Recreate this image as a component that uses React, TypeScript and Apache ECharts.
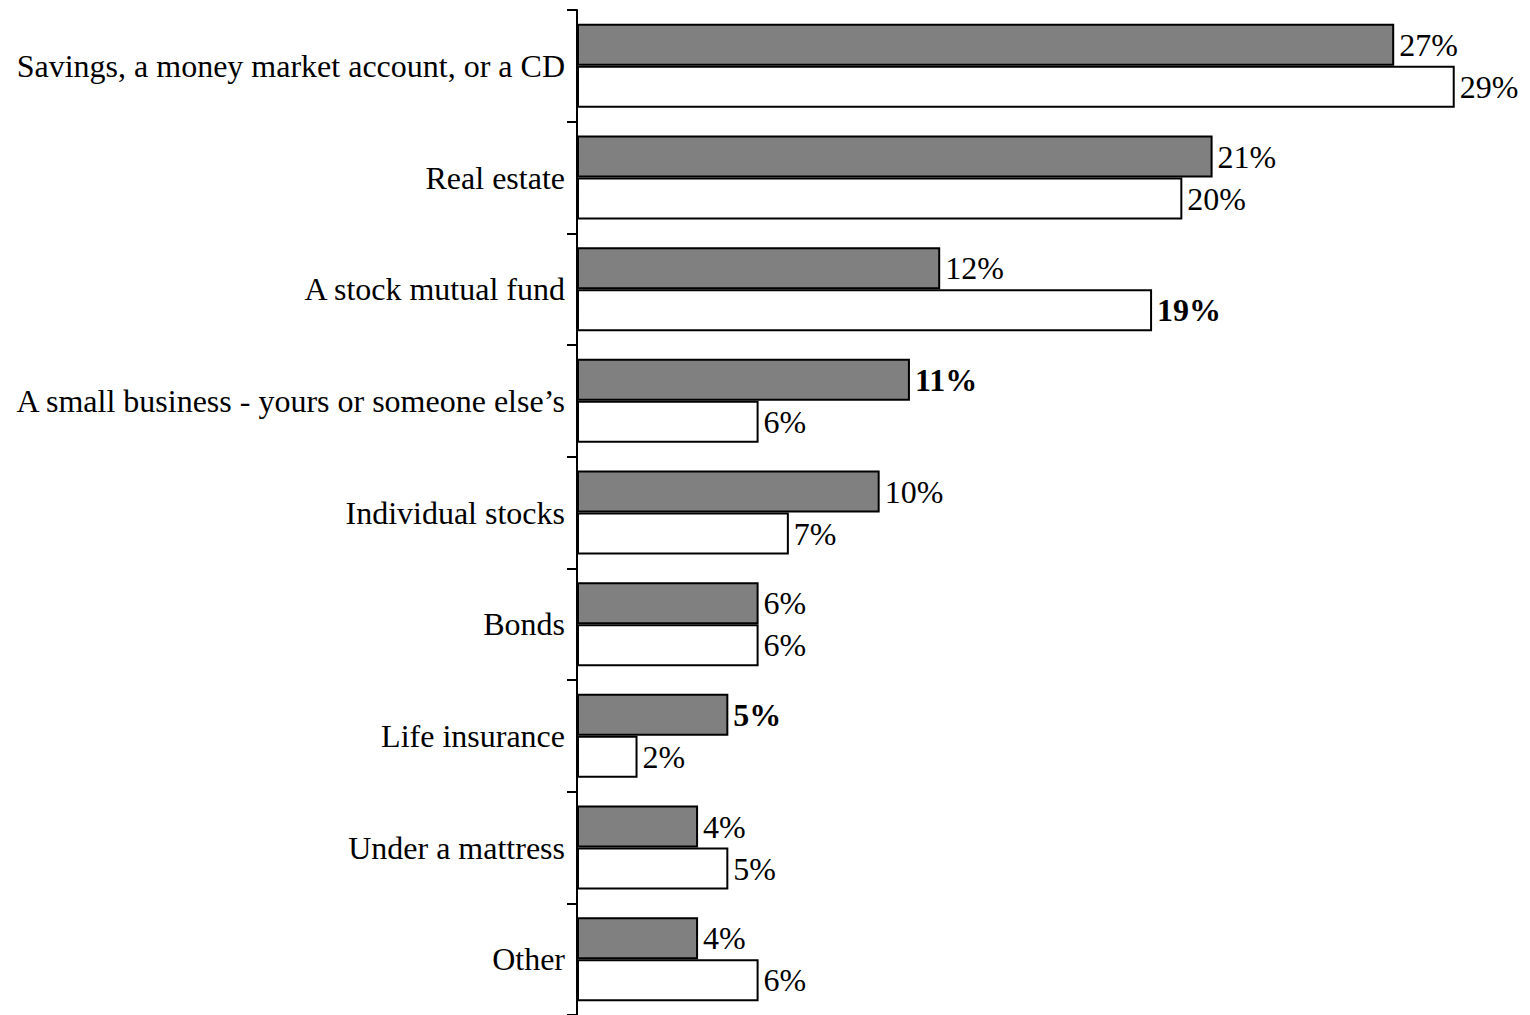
import React, { useEffect, useRef } from "react";
import * as echarts from "echarts";

const categories = [
  "Savings, a money market account, or a CD",
  "Real estate",
  "A stock mutual fund",
  "A small business - yours or someone else\u2019s",
  "Individual stocks",
  "Bonds",
  "Life insurance",
  "Under a mattress",
  "Other",
];
const grayValues = [27, 21, 12, 11, 10, 6, 5, 4, 4];
const whiteValues = [29, 20, 19, 6, 7, 6, 2, 5, 6];
const grayBold = [false, false, false, true, false, false, true, false, false];
const whiteBold = [false, false, true, false, false, false, false, false, false];

const FONT = "'Liberation Serif', 'Times New Roman', serif";

export default function App() {
  const ref = useRef<HTMLDivElement>(null);
  useEffect(() => {
    if (!ref.current) return;
    const chart = echarts.init(ref.current, null, { renderer: "svg" });
    const mk = (vals: number[], bold: boolean[]) =>
      vals.map((v, i) => ({
        value: v,
        label: { fontWeight: bold[i] ? "bold" : "normal" },
      }));
    const labelBase = {
      show: true,
      position: "right",
      distance: 5,
      color: "#000",
      fontFamily: FONT,
      fontSize: 32,
      formatter: (p: any) => p.value + "%",
    };
    chart.setOption({
      animation: false,
      backgroundColor: "#fff",
      grid: { left: 577, right: 45, top: 10, bottom: 0 },
      xAxis: {
        type: "value",
        min: 0,
        max: 30,
        show: false,
      },
      yAxis: {
        type: "category",
        data: categories,
        inverse: true,
        axisLine: { show: true, lineStyle: { color: "#000", width: 2 } },
        axisTick: { show: true, length: 10, lineStyle: { color: "#000", width: 2 } },
        axisLabel: {
          color: "#000",
          fontFamily: FONT,
          fontSize: 32,
          margin: 12,
        },
        splitLine: { show: false },
      },
      series: [
        {
          type: "bar",
          data: mk(grayValues, grayBold),
          barWidth: 42,
          barGap: "0%",
          itemStyle: { color: "#808080", borderColor: "#000", borderWidth: 2 },
          label: labelBase,
        },
        {
          type: "bar",
          data: mk(whiteValues, whiteBold),
          barWidth: 42,
          barGap: "0%",
          itemStyle: { color: "#fff", borderColor: "#000", borderWidth: 2 },
          label: labelBase,
        },
      ],
    });
    return () => chart.dispose();
  }, []);
  return <div ref={ref} style={{ width: 1530, height: 1015, position: "absolute", left: 0, top: 0 }} />;
}
